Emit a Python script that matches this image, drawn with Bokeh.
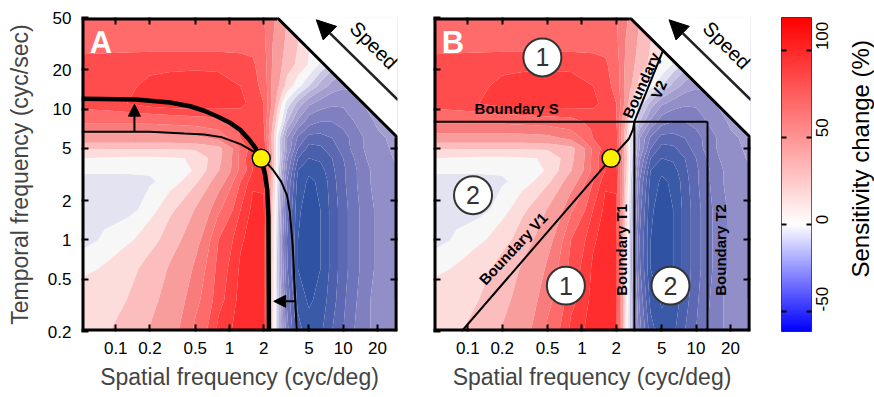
import numpy as np
from bokeh.plotting import figure
from bokeh.layouts import row
from bokeh.models import (Range1d, LogAxis, LinearAxis, FixedTicker, NumeralTickFormatter,
                          CustomJSTickFormatter, Arrow, NormalHead, Label, LinearColorMapper)
from bokeh.embed import file_html
from bokeh.resources import INLINE
from bokeh.core.properties import value

FONT = "Liberation Sans"

# ---------------- data ----------------
spatial_freq = [0.05, 0.08, 0.125, 0.2, 0.3, 0.5, 0.8, 1.25, 1.6, 2.0, 2.4, 2.65, 2.9, 3.2, 4, 5,
                6.3, 8, 10, 12.5, 16, 20, 31]
temporal_freq = [0.2, 0.35, 0.6, 1, 1.7, 2.8, 3.4, 4.2, 5, 6, 7, 8, 11, 15, 22, 32, 50]

sens_tf_0p2  = [12, 14, 19, 31, 43, 68, 95, 108, 110, 105, 5, -12, -22, -33, -48, -53, -51, -45, -40, -35, -31, -28, -24]
sens_tf_0p35 = [8, 12, 15, 25, 38, 60, 88, 106, 110, 106, 8, -12, -24, -36, -52, -56, -53, -47, -41, -36, -31, -28, -24]
sens_tf_0p6  = [2, 5, 11, 20, 32, 53, 85, 104, 110, 106, 8, -13, -27, -39, -55, -58, -55, -48, -42, -37, -32, -29, -25]
sens_tf_1    = [-8, -2, 2, 10, 22, 43, 80, 100, 108, 106, 10, -12, -28, -40, -55, -58, -55, -48, -42, -37, -32, -29, -25]
sens_tf_1p7  = [-10, -9, -7, 0, 12, 31, 62, 92, 105, 104, 12, -10, -25, -38, -54, -58, -55, -48, -42, -37, -32, -29, -25]
sens_tf_2p8  = [-6, -6, -6, -5, -1, 12, 40, 80, 100, 100, 18, -8, -22, -35, -52, -56, -54, -47, -41, -36, -31, -28, -25]
sens_tf_3p4  = [-3, -3, -3, -3, -1, 5, 29, 70, 92, 97, 22, -6, -20, -32, -50, -54, -52, -46, -41, -36, -31, -28, -25]
sens_tf_4p2  = [4, 3, 2, 2, 3, 5, 25, 70, 95, 95, 25, -5, -17, -29, -45, -50, -49, -45, -40, -35, -30, -27, -24]
sens_tf_5    = [16, 16, 16, 16, 16, 17, 24, 68, 88, 92, 22, -5, -15, -25, -40, -47, -46, -42, -38, -33, -29, -27, -23]
sens_tf_6    = [42, 42, 42, 42, 43, 45, 55, 80, 92, 85, 20, -5, -15, -25, -36, -42, -42, -40, -37, -33, -29, -26, -23]
sens_tf_7    = [57, 57, 57, 57, 58, 60, 66, 82, 90, 84, 25, 0, -10, -20, -31, -37, -38, -37, -35, -31, -28, -25, -22]
sens_tf_8    = [68, 68, 68, 68, 70, 72, 75, 85, 88, 80, 30, 5, -5, -15, -26, -33, -35, -35, -33, -30, -27, -24, -22]
sens_tf_11   = [86, 88, 92, 98, 100, 102, 100, 95, 88, 80, 45, 20, 3, -7, -17, -24, -27, -29, -29, -27, -24, -22, -20]
sens_tf_15   = [88, 88, 90, 95, 98, 100, 98, 92, 85, 75, 45, 33, 22, 10, -2, -10, -17, -22, -24, -24, -23, -22, -20]
sens_tf_22   = [85, 86, 87, 88, 88, 88, 88, 86, 82, 72, 48, 38, 30, 22, 12, 3, -5, -12, -16, -18, -18, -18, -18]
sens_tf_32   = [73, 73, 73, 73, 73, 73, 73, 73, 75, 68, 50, 40, 33, 27, 15, 5, -3, -10, -13, -15, -15, -15, -15]
sens_tf_50   = [70, 70, 70, 70, 70, 70, 70, 70, 72, 66, 55, 45, 38, 30, 18, 8, 1, -5, -9, -12, -13, -14, -14]

sens_rows = [sens_tf_0p2, sens_tf_0p35, sens_tf_0p6, sens_tf_1, sens_tf_1p7, sens_tf_2p8, sens_tf_3p4,
             sens_tf_4p2, sens_tf_5, sens_tf_6, sens_tf_7, sens_tf_8, sens_tf_11, sens_tf_15,
             sens_tf_22, sens_tf_32, sens_tf_50]

levels = [-70, -55, -50, -45, -40, -35, -30, -25, -20, -15, -10, -4, 4, 15, 30, 50, 65, 80, 92, 102, 130]
band_colors = ["#2F52A2", "#3A59A7", "#4A60AC", "#5C69B2", "#6E74B9", "#8080C0", "#928EC8",
               "#A49ED0", "#B6B0D9", "#C8C4E3", "#E4E3F1", "#F7F7F7", "#FDDCDC", "#FBBDBD",
               "#F99C9C", "#F87C7C", "#FF6A6A", "#FF4D4D", "#FF3B3B", "#FF2D2D"]

x_ticks = [0.1, 0.2, 0.5, 1, 2, 5, 10, 20]
y_ticks = [0.2, 0.5, 1, 2, 5, 10, 20, 50]
top_ticks = [0.1, 0.2, 0.5, 1, 2]
right_ticks = [0.5, 1, 2, 5]

# panel A curves
thick_sf = [0.05, 0.15, 0.3, 0.45, 0.6, 0.8, 1.0, 1.25, 1.5, 1.7, 1.89, 2.05, 2.15, 2.2, 2.22]
thick_tf = [12.0, 11.8, 11.2, 10.5, 9.7, 8.7, 7.9, 6.9, 5.8, 5.0, 4.2, 3.2, 2.4, 1.5, 0.2]
thin_sf = [0.05, 0.2, 0.4, 0.6, 0.85, 1.25, 1.65, 1.89, 2.15, 2.4, 2.84, 3.2, 3.4, 3.6, 3.9]
thin_tf = [6.7, 6.7, 6.5, 6.4, 6.1, 5.4, 4.7, 4.15, 3.85, 3.45, 2.8, 2.2, 1.6, 0.9, 0.2]
optimum_A = ([1.9], [4.2])

# panel B boundaries
bS_sf, bS_tf = [0.05, 12.6], [8, 8]
bT1_sf, bT1_tf = [2.88, 2.88], [8, 0.2]
bT2_sf, bT2_tf = [12.6, 12.6], [8, 0.2]
bV1_sf = [0.088, 1.8, 2.57, 2.8, 2.88]
bV1_tf = [0.2, 4.2, 5.9, 7.0, 8.0]
bV2_sf, bV2_tf = [2.88, 5.1], [8.0, 27.5]
optimum_B = ([1.8], [4.2])
region_sf = [0.45, 0.111, 0.723, 5.97]
region_tf = [24.8, 2.2, 0.448, 0.448]
region_txt = ["1", "2", "1", "2"]

# colour bar
cb_low, cb_high = -61.5, 118.7
cb_ticks = [-50, 0, 50, 100]

Z = np.array(sens_rows, dtype=float)
BLANK = "return ''"
H = 397


def style_axis(ax, ticks, show_labels):
    ax.ticker = FixedTicker(ticks=ticks, minor_ticks=[])
    ax.axis_line_color = None
    ax.major_tick_in = 7
    ax.major_tick_out = 0
    ax.major_tick_line_width = 2
    ax.major_tick_line_color = "black"
    ax.minor_tick_line_color = None
    ax.major_label_text_font = FONT
    ax.major_label_text_color = "black"
    if show_labels:
        ax.formatter = NumeralTickFormatter(format="0.[0]")
        ax.major_label_text_font_size = "17px"
        ax.major_label_standoff = 10
    else:
        ax.formatter = CustomJSTickFormatter(code=BLANK)
        ax.major_label_text_font_size = "1px"
        ax.major_label_standoff = 0


def make_panel(letter, fw, bl, br, y_labels):
    p = figure(width=bl + fw + br, height=H,
               x_axis_type="log", y_axis_type="log",
               x_range=Range1d(0.05, 30), y_range=Range1d(0.2, 50),
               output_backend="svg", toolbar_location=None,
               min_border_left=bl, min_border_right=br, min_border_top=14, min_border_bottom=66)
    p.outline_line_color = None
    p.grid.visible = False
    p.background_fill_color = "white"
    p.border_fill_color = "white"

    style_axis(p.xaxis[0], x_ticks, True)
    p.xaxis[0].axis_label = "Spatial frequency (cyc/deg)"
    p.xaxis[0].axis_label_text_font = FONT
    p.xaxis[0].axis_label_text_font_size = "23px"
    p.xaxis[0].axis_label_text_font_style = "normal"
    p.xaxis[0].axis_label_standoff = 7

    style_axis(p.yaxis[0], y_ticks, y_labels)
    if y_labels:
        p.yaxis[0].axis_label = "Temporal frequency (cyc/sec)"
        p.yaxis[0].axis_label_text_font = FONT
        p.yaxis[0].axis_label_text_font_size = "23px"
        p.yaxis[0].axis_label_text_font_style = "normal"
        p.yaxis[0].axis_label_standoff = 12

    top = LogAxis()
    style_axis(top, top_ticks, False)
    p.add_layout(top, "above")
    right = LogAxis()
    style_axis(right, right_ticks, False)
    p.add_layout(right, "right")

    # sensitivity field
    p.contour(x=spatial_freq, y=temporal_freq, z=Z, levels=levels,
              fill_color=band_colors, line_color=None)
    # cut-off corner (speed limit)
    p.patch([2.6, 30, 60, 60, 2.6], [50, 6, 6, 100, 100], fill_color="white", line_color=None)

    p.text(x=[0.0742], y=[32.4], text=[letter], text_font=value(FONT), text_font_size="31px",
           text_font_style="bold", text_color="white", text_align="center", text_baseline="middle")
    return p


pA = make_panel("A", 316, 81, 18, True)
pB = make_panel("B", 317, 18, 15, False)

# ---- panel A overlays ----
pA.line(thin_sf, thin_tf, line_color="black", line_width=2)
pA.line(thick_sf, thick_tf, line_color="black", line_width=4.5)
pA.add_layout(Arrow(end=NormalHead(size=12, fill_color="black", line_color="black"),
                    x_start=0.146, y_start=6.7, x_end=0.146, y_end=10.9,
                    line_color="black", line_width=2))
pA.add_layout(Arrow(end=NormalHead(size=12, fill_color="black", line_color="black"),
                    x_start=3.8, y_start=0.34, x_end=2.45, y_end=0.34,
                    line_color="black", line_width=2))
pA.scatter(optimum_A[0], optimum_A[1], size=18, fill_color="#FFF000", line_color="black", line_width=1.5)

# ---- panel B overlays ----
for xs, ys in [(bS_sf, bS_tf), (bT1_sf, bT1_tf), (bT2_sf, bT2_tf), (bV1_sf, bV1_tf), (bV2_sf, bV2_tf)]:
    pB.line(xs, ys, line_color="black", line_width=2)
pB.scatter(optimum_B[0], optimum_B[1], size=18, fill_color="#FFF000", line_color="black", line_width=1.5)
pB.scatter(region_sf, region_tf, size=38, fill_color="white", line_color="#333333", line_width=2)
pB.text(x=region_sf, y=region_tf, text=region_txt, text_font=value(FONT), text_font_size="25px",
        text_color="#333333", text_align="center", text_baseline="middle")

bold = dict(text_font=value(FONT), text_font_size="15px", text_font_style="bold",
            text_color="black", text_align="center", text_baseline="middle")
pB.text(x=[0.268], y=[10.05], text=["Boundary S"], **bold)
pB.text(x=[0.25], y=[0.86], text=["Boundary V1"], angle=0.82, **bold)
pB.text(x=[2.22, 16.4], y=[0.84, 0.84], text=["Boundary T1", "Boundary T2"], angle=np.pi / 2, **bold)
pB.text(x=[3.30], y=[15.2], text=["Boundary"], angle=1.15, **bold)
pB.text(x=[4.71], y=[14.1], text=["V2"], angle=1.15, **bold)

# ---- common: border, speed arrow ----
for p in (pA, pB):
    for xs, ys in [([0.05, 0.05], [0.2, 50]), ([0.05, 30], [0.2, 0.2]),
                   ([30, 30], [0.2, 6.06]), ([0.05, 2.62], [50, 50])]:
        p.line(xs, ys, line_color="black", line_width=6)
    p.line([2.62, 30], [50, 6.06], line_color="black", line_width=3)
    p.add_layout(Arrow(end=NormalHead(size=19, fill_color="black", line_color="black"),
                       x_start=30.3, y_start=11.7, x_end=5.8, y_end=48,
                       line_color="#222222", line_width=2.5))
    p.add_layout(Label(x=18.6, y=30.7, text="Speed", angle=-np.pi / 4, text_align="center",
                       text_baseline="middle", text_font=FONT, text_font_size="20px",
                       text_color="black"))

# ---- colour bar ----
def cb_color(v):
    if v < 0:
        t = v / cb_low
        c = int(round(255 * (1 - t)))
        return "#%02x%02x%02x" % (c, c, 255)
    t = v / cb_high
    c = int(round(255 * (1 - t)))
    return "#%02x%02x%02x" % (255, c, c)


cb_palette = [cb_color(v) for v in np.linspace(cb_low, cb_high, 256)]
mapper = LinearColorMapper(palette=cb_palette, low=cb_low, high=cb_high)

cb = figure(width=16 + 30 + 35, height=H,
            x_range=Range1d(0, 1), y_range=Range1d(cb_low, cb_high),
            output_backend="svg", toolbar_location=None,
            x_axis_location=None, y_axis_location="right",
            min_border_left=16, min_border_right=35, min_border_top=17, min_border_bottom=66)
cb.grid.visible = False
cb.outline_line_color = "#333333"
cb.outline_line_width = 1
cb.image(image=[np.linspace(cb_low, cb_high, 256).reshape(-1, 1)], x=0, y=cb_low,
         dw=1, dh=cb_high - cb_low, color_mapper=mapper)
style_axis(cb.yaxis[0], cb_ticks, True)
cb.yaxis[0].formatter = NumeralTickFormatter(format="0")
cb.yaxis[0].major_tick_in = 5
cb.yaxis[0].major_label_orientation = np.pi / 2
cb.yaxis[0].major_label_standoff = 11
cb_left = LinearAxis()
style_axis(cb_left, cb_ticks, False)
cb_left.major_tick_in = 5
cb.add_layout(cb_left, "left")

# colour bar title (own narrow strip so it can read upwards)
tt = figure(width=28, height=H, x_range=Range1d(0, 1), y_range=Range1d(0, 1),
            output_backend="svg", toolbar_location=None,
            x_axis_location=None, y_axis_location=None,
            min_border_left=0, min_border_right=0, min_border_top=0, min_border_bottom=0)
tt.grid.visible = False
tt.outline_line_color = None
tt.text(x=[0.5], y=[0.55], text=["Sensitivity change (%)"], angle=np.pi / 2,
        text_font=value(FONT), text_font_size="24px", text_color="black",
        text_align="center", text_baseline="middle")

layout = row(pA, pB, cb, tt)
open("out.html", "w").write(file_html(layout, INLINE))
